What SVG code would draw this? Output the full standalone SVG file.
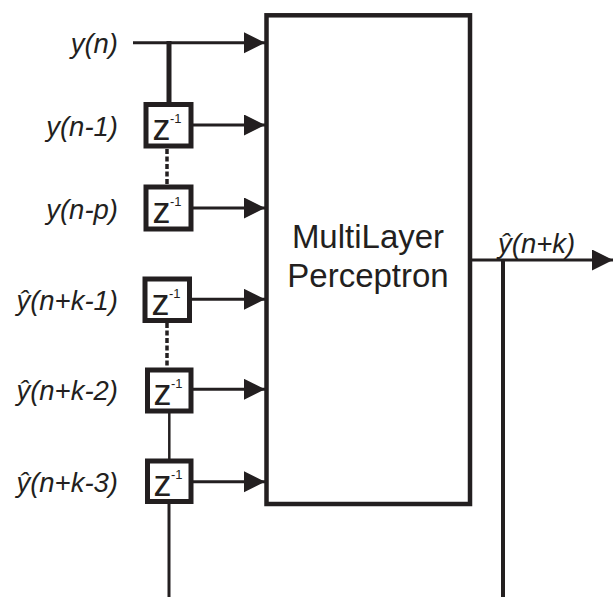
<svg xmlns="http://www.w3.org/2000/svg" width="613" height="597" viewBox="0 0 613 597">
<style>
.lbl{font-family:"Liberation Sans",Arial,sans-serif;font-style:italic;font-size:27.5px;fill:#231f20}
.mlp{font-family:"Liberation Sans",Arial,sans-serif;font-size:33px;fill:#231f20}
.z{font-family:"Liberation Sans",Arial,sans-serif;font-size:36px;fill:#231f20}
.sup{font-family:"Liberation Sans",Arial,sans-serif;font-size:13px;fill:#231f20}
.box{fill:#fff;stroke:#231f20;stroke-width:5}
.ln{stroke:#231f20;stroke-width:3;fill:none}
.arr{stroke:#231f20;stroke-width:3;fill:none;marker-end:url(#ah)}
.dash{stroke:#231f20;stroke-width:3.5;stroke-dasharray:5 2.5;fill:none}
</style>
<defs>
<marker id="ah" markerUnits="userSpaceOnUse" markerWidth="22" markerHeight="22" refX="21" refY="10.5" orient="auto">
<path d="M0,0 L21,10.5 L0,21 Z" fill="#231f20"/>
</marker>
</defs>
<g id="connectors">
<line class="arr" x1="133" y1="42.7" x2="265" y2="42.7"/>
<line class="ln" x1="169" y1="41" x2="169" y2="104" style="stroke-width:5"/>
<line class="arr" x1="192" y1="125" x2="265" y2="125"/>
<line class="dash" x1="167" y1="149" x2="167" y2="185"/>
<line class="arr" x1="192" y1="208" x2="265" y2="208"/>
<line class="arr" x1="192" y1="299.3" x2="265" y2="299.3"/>
<line class="dash" x1="167" y1="323" x2="167" y2="368"/>
<line class="arr" x1="193" y1="389.3" x2="265" y2="389.3"/>
<line class="ln" x1="169.3" y1="413" x2="169.3" y2="459" style="stroke-width:2.5"/>
<line class="arr" x1="193" y1="481.7" x2="265" y2="481.7"/>
<line class="ln" x1="169" y1="503" x2="169" y2="597"/>
<line class="arr" x1="470" y1="260" x2="613" y2="260"/>
<line class="ln" x1="503" y1="260" x2="503" y2="597" style="stroke-width:4"/>
</g>
<g id="mlp">
<rect x="266.5" y="15.3" width="203.5" height="488.7" fill="#fff" stroke="#231f20" stroke-width="4.5"/>
<text class="mlp" x="368" y="248" text-anchor="middle">MultiLayer</text>
<text class="mlp" x="368" y="287" text-anchor="middle">Perceptron</text>
</g>
<g id="z1">
<rect class="box" x="146" y="104.5" width="45" height="41.5"/>
<text class="z" x="152.5" y="140">z</text><text class="sup" x="170" y="123">-1</text>
</g>
<g id="z2">
<rect class="box" x="146" y="187" width="45" height="42"/>
<text class="z" x="152.5" y="223">z</text><text class="sup" x="170" y="206">-1</text>
</g>
<g id="z3">
<rect class="box" x="145" y="279" width="44.5" height="41.5"/>
<text class="z" x="151.5" y="314.5">z</text><text class="sup" x="169" y="297.5">-1</text>
</g>
<g id="z4">
<rect class="box" x="147.5" y="370" width="43.5" height="41"/>
<text class="z" x="153.5" y="405">z</text><text class="sup" x="171" y="388">-1</text>
</g>
<g id="z5">
<rect class="box" x="147.5" y="461" width="43.5" height="40.5"/>
<text class="z" x="153.5" y="496">z</text><text class="sup" x="171" y="479">-1</text>
</g>
<g id="labels">
<text class="lbl" x="118" y="53.3" text-anchor="end">y(n)</text>
<text class="lbl" x="118" y="135.5" text-anchor="end">y(n-1)</text>
<text class="lbl" x="118" y="218.5" text-anchor="end">y(n-p)</text>
<text class="lbl" x="118" y="310" text-anchor="end">ŷ(n+k-1)</text>
<text class="lbl" x="118" y="400" text-anchor="end">ŷ(n+k-2)</text>
<text class="lbl" x="118" y="492" text-anchor="end">ŷ(n+k-3)</text>
<text class="lbl" x="498" y="253.3">ŷ(n+k)</text>
</g>
</svg>
